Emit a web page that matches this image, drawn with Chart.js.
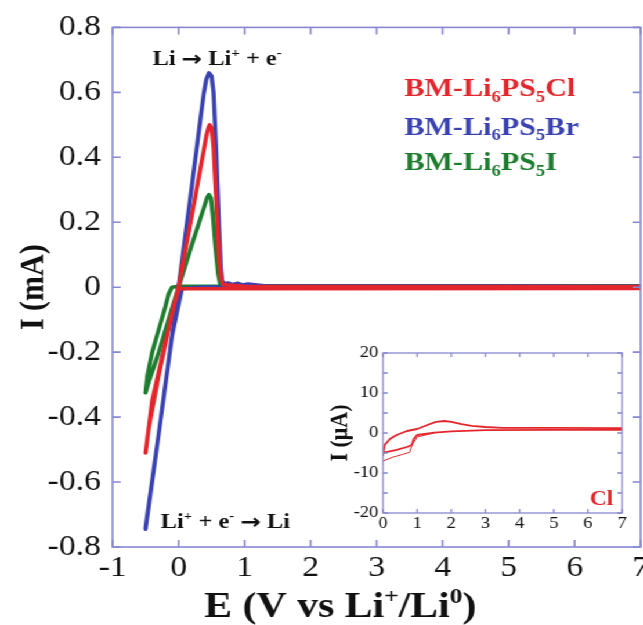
<!DOCTYPE html>
<html lang="en">
    <head>
        <meta charset="UTF-8">
        <title>Cyclic voltammetry BM-Li6PS5X</title>
        <script src="https://cdn.jsdelivr.net/npm/chart.js"></script>
        <style>
            body { margin: 0; background: #fff; }
            /* the figure uses a horizontally widened Times face */
            #wrap { position: relative; width: 554px; height: 625px; transform: scaleX(1.1606); transform-origin: 0 0; }
            #main { position: absolute; left: 0; top: 0; }
            #inset { position: absolute; left: 276px; top: 335px; }
        </style>
    </head>
    <body>
        <div id="wrap">
            <canvas id="main" width="554" height="625"></canvas>
            <canvas id="inset" width="264" height="205"></canvas>
        </div>

        <script>
            // CV scans, E in V vs Li+/Li, I in mA (forward sweep then return sweep)
            const clE = [-0.5, -0.45, -0.3, -0.1, 0.0, 0.2, 0.42, 0.45, 0.47, 0.5, 0.53, 0.57, 0.61, 0.64, 0.67, 1.0, 7.0, 7.0, 1.0, 0.0, -0.05, -0.2, -0.4, -0.5];
            const clI = [-0.51, -0.43, -0.27, -0.08, 0.0, 0.22, 0.465, 0.49, 0.5, 0.49, 0.43, 0.27, 0.1, 0.03, 0.008, 0.003, 0.002, -0.004, -0.005, -0.005, -0.04, -0.17, -0.35, -0.51];

            const brE = [-0.5, -0.3, 0.0, 0.2, 0.38, 0.42, 0.46, 0.5, 0.53, 0.57, 0.61, 0.64, 0.66, 0.7, 0.75, 0.82, 0.9, 0.97, 1.05, 1.3, 7.0, 7.0, 3.0, 1.0, 0.3, 0.05, -0.1, -0.3, -0.5];
            const brI = [-0.745, -0.45, 0.0, 0.31, 0.595, 0.64, 0.66, 0.65, 0.6, 0.42, 0.2, 0.06, 0.02, 0.01, 0.013, 0.008, 0.012, 0.007, 0.01, 0.004, 0.003, 0.002, 0.002, 0.002, 0.0, -0.005, -0.15, -0.45, -0.74];

            const iE = [-0.5, -0.45, -0.3, -0.07, 0.0, 0.2, 0.4, 0.43, 0.46, 0.49, 0.52, 0.56, 0.6, 0.63, 0.68, 7.0, 7.0, 0.0, -0.1, -0.15, -0.2, -0.4, -0.47, -0.5];
            const iI = [-0.325, -0.29, -0.2, -0.045, 0.0, 0.13, 0.255, 0.275, 0.285, 0.275, 0.22, 0.12, 0.04, 0.01, 0.004, 0.004, 0.003, 0.003, 0.0, -0.02, -0.06, -0.2, -0.27, -0.325];

            // Cl sample, zoomed in, I in µA (two cycles)
            const cyc1E = [0.0, 0.05, 0.2, 0.4, 0.7, 1.0, 1.3, 1.55, 1.8, 2.0, 2.3, 2.6, 3.0, 3.5, 5.0, 7.0, 7.0, 5.0, 3.0, 2.0, 1.5, 1.0, 0.9, 0.84, 0.7, 0.4, 0.1, 0.0];
            const cyc1I = [-5.5, -3.0, -1.5, -0.5, 0.5, 1.0, 2.0, 2.8, 3.0, 2.8, 2.2, 1.8, 1.5, 1.3, 1.3, 1.2, 0.8, 0.8, 0.7, 0.4, 0.1, -0.5, -1.5, -3.0, -3.5, -4.2, -4.8, -5.0];
            const cyc2E = [0.0, 0.3, 0.6, 0.78, 0.85, 1.0, 1.5];
            const cyc2I = [-7.0, -6.0, -5.3, -4.8, -3.0, -1.0, 0.0];

            const seriesNames = ['BM-Li_6PS_5Cl', 'BM-Li_6PS_5Br', 'BM-Li_6PS_5I'];
            const colors = ['#e3262c', '#3a42b2', '#1d7c2e'];

            const SERIF = '"Liberation Serif", "Times New Roman", serif';
            const FRAME = '#8787d2';

            const pts = (xs, ys) => xs.map((x, i) => ({ x: x, y: ys[i] }));

            // text with _x subscripts and ^x superscripts (single char)
            function richParts(str) {
                const out = [];
                let buf = '';
                for (let i = 0; i < str.length; i++) {
                    const c = str[i];
                    if ((c === '_' || c === '^') && i + 1 < str.length) {
                        if (buf) { out.push({ t: buf, k: '' }); buf = ''; }
                        out.push({ t: str[i + 1], k: c });
                        i++;
                    } else if (c === '→') {
                        if (buf) { out.push({ t: buf, k: '' }); buf = ''; }
                        out.push({ t: c, k: 'arrow' });
                    } else {
                        buf += c;
                    }
                }
                if (buf) out.push({ t: buf, k: '' });
                return out;
            }

            function drawRich(ctx, str, x, y, size, color, align) {
                const parts = richParts(str);
                const fontFor = k => k === 'arrow' ? `bold ${size}px "DejaVu Sans"`
                    : `bold ${k ? Math.round(size * 0.62) : size}px ${SERIF}`;
                let w = 0;
                for (const p of parts) {
                    ctx.font = fontFor(p.k);
                    p.w = ctx.measureText(p.t).width;
                    w += p.w;
                }
                let cx = align === 'center' ? x - w / 2 : align === 'right' ? x - w : x;
                ctx.fillStyle = color;
                ctx.textAlign = 'left';
                ctx.textBaseline = 'alphabetic';
                for (const p of parts) {
                    ctx.font = fontFor(p.k);
                    const dy = p.k === '^' ? -size * 0.4 : p.k === '_' ? size * 0.22 : p.k === 'arrow' ? size * 0.04 : 0;
                    ctx.fillText(p.t, cx, y + dy);
                    cx += p.w;
                }
            }

            // box around the plot with inward ticks on all four sides
            const framePlugin = {
                id: 'frame',
                afterDraw(chart, args, opts) {
                    const { ctx, chartArea: a, scales: { x, y } } = chart;
                    const len = opts.len;
                    ctx.save();
                    ctx.strokeStyle = FRAME;
                    ctx.lineWidth = opts.width;
                    ctx.strokeRect(a.left, a.top, a.right - a.left, a.bottom - a.top);
                    ctx.beginPath();
                    for (let v = x.min; v <= x.max + 1e-9; v += opts.xStep) {
                        const px = x.getPixelForValue(v);
                        ctx.moveTo(px, a.bottom); ctx.lineTo(px, a.bottom - len);
                        ctx.moveTo(px, a.top); ctx.lineTo(px, a.top + len);
                    }
                    for (let v = y.min; v <= y.max + 1e-9; v += opts.yStep) {
                        const py = y.getPixelForValue(v);
                        ctx.moveTo(a.left, py); ctx.lineTo(a.left + len, py);
                        ctx.moveTo(a.right, py); ctx.lineTo(a.right - len, py);
                    }
                    ctx.stroke();
                    ctx.restore();
                }
            };

            // x tick labels, axis titles and in-plot labels
            const notesPlugin = {
                id: 'notes',
                afterDraw(chart, args, opts) {
                    const { ctx, chartArea: a, scales: { x, y } } = chart;
                    ctx.save();
                    if (opts.xLabels) {
                        ctx.font = `${opts.xLabels.size}px ${SERIF}`;
                        ctx.fillStyle = '#111';
                        ctx.textAlign = 'center';
                        ctx.textBaseline = 'top';
                        for (const t of x.ticks) {
                            ctx.fillText(String(t.value), x.getPixelForValue(t.value), a.bottom + opts.xLabels.offset);
                        }
                    }
                    for (const n of opts.items) {
                        drawRich(ctx, n.text, x.getPixelForValue(n.x), y.getPixelForValue(n.y), n.size, n.color, 'left');
                    }
                    if (opts.xTitle) {
                        const t = opts.xTitle;
                        drawRich(ctx, t.text, x.getPixelForValue(t.at), a.bottom + t.offset, t.size, '#111', 'center');
                    }
                    if (opts.yTitle) {
                        const t = opts.yTitle;
                        ctx.translate(a.left - t.offset, (a.top + a.bottom) / 2);
                        ctx.rotate(-Math.PI / 2);
                        drawRich(ctx, t.text, 0, t.size * 0.33, t.size, '#111', 'center');
                    }
                    ctx.restore();
                }
            };

            const lineSet = (data, color, width) => ({
                data: data,
                showLine: true,
                borderColor: color,
                backgroundColor: color,
                borderWidth: width,
                pointRadius: 0,
                tension: 0,
                borderJoinStyle: 'round',
                borderCapStyle: 'round'
            });

            const tickFont = size => ({ family: SERIF, size: size });

            new Chart(document.getElementById('main'), {
                type: 'scatter',
                data: {
                    datasets: [
                        lineSet(pts(clE, clI), colors[0], 3.6),
                        lineSet(pts(brE, brI), colors[1], 3.6),
                        lineSet(pts(iE, iI), colors[2], 3.6)
                    ]
                },
                options: {
                    responsive: false,
                    animation: false,
                    events: [],
                    layout: { autoPadding: false, padding: { top: 24, right: 2, left: 0, bottom: 0 } },
                    plugins: {
                        legend: { display: false },
                        tooltip: { enabled: false },
                        frame: { len: 7, width: 1.6, xStep: 1, yStep: 0.2 },
                        notes: {
                            xLabels: { size: 29, offset: 7 },
                            items: [
                                { x: -0.394, y: 0.684, text: 'Li → Li^+ + e^-', size: 21, color: '#111' },
                                { x: -0.27, y: -0.742, text: 'Li^+ + e^- → Li', size: 21, color: '#111' },
                                { x: 3.42, y: 0.589, text: seriesNames[0], size: 26, color: colors[0] },
                                { x: 3.42, y: 0.47, text: seriesNames[1], size: 26, color: colors[1] },
                                { x: 3.42, y: 0.361, text: seriesNames[2], size: 26, color: colors[2] }
                            ],
                            xTitle: { text: 'E (V vs Li^+/Li^0)', at: 2.45, offset: 70, size: 36 },
                            yTitle: { text: 'I (mA)', offset: 70, size: 30 }
                        }
                    },
                    scales: {
                        x: {
                            type: 'linear',
                            min: -1, max: 7,
                            grid: { display: false, drawTicks: false },
                            border: { display: false },
                            afterFit: s => { s.height = 78; },
                            ticks: { stepSize: 1, display: false }
                        },
                        y: {
                            type: 'linear',
                            min: -0.8, max: 0.8,
                            grid: { display: false, drawTicks: false },
                            border: { display: false },
                            afterFit: s => { s.width = 97; },
                            ticks: {
                                stepSize: 0.2, autoSkip: false, padding: 10,
                                color: '#111', font: tickFont(29),
                                callback: v => String(Math.round(v * 10) / 10)
                            }
                        }
                    }
                },
                plugins: [framePlugin, notesPlugin]
            });

            new Chart(document.getElementById('inset'), {
                type: 'scatter',
                data: {
                    datasets: [
                        lineSet(pts(cyc1E, cyc1I), colors[0], 1.8),
                        lineSet(pts(cyc2E, cyc2I), colors[0], 1.0)
                    ]
                },
                options: {
                    responsive: false,
                    animation: false,
                    events: [],
                    layout: { autoPadding: false, padding: { top: 18, right: 4, left: 0, bottom: 0 } },
                    plugins: {
                        legend: { display: false },
                        tooltip: { enabled: false },
                        frame: { len: 4, width: 1.3, xStep: 1, yStep: 5 },
                        notes: {
                            xLabels: { size: 16, offset: 3 },
                            items: [
                                { x: 6.06, y: -18, text: 'Cl', size: 20, color: colors[0] }
                            ],
                            yTitle: { text: 'I (μA)', offset: 38, size: 22 }
                        }
                    },
                    scales: {
                        x: {
                            type: 'linear',
                            min: 0, max: 7,
                            grid: { display: false, drawTicks: false },
                            border: { display: false },
                            afterFit: s => { s.height = 27; },
                            ticks: { stepSize: 1, display: false }
                        },
                        y: {
                            type: 'linear',
                            min: -20, max: 20,
                            grid: { display: false, drawTicks: false },
                            border: { display: false },
                            afterFit: s => { s.width = 54; },
                            ticks: {
                                stepSize: 10, autoSkip: false, padding: 4,
                                color: '#111', font: tickFont(16)
                            }
                        }
                    }
                },
                plugins: [framePlugin, notesPlugin]
            });
        </script>
    </body>
</html>
